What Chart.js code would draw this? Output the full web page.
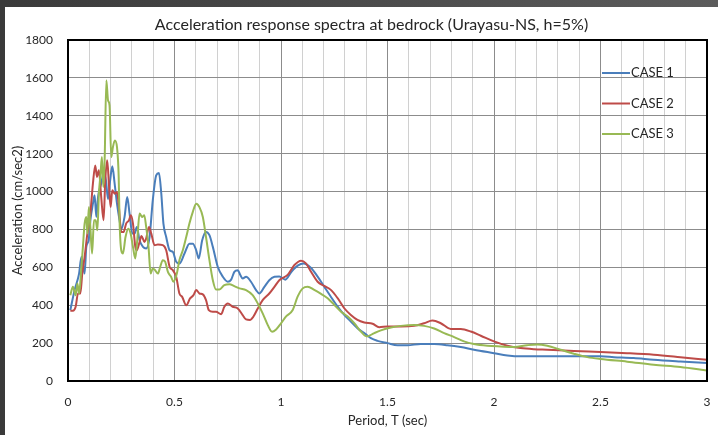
<!DOCTYPE html>
<html>
<head>
<meta charset="utf-8">
<script src="https://cdn.jsdelivr.net/npm/chart.js@4.4.1/dist/chart.umd.min.js"></script>
<style>
  html, body { margin: 0; padding: 0; }
  body { width: 718px; height: 435px; background: linear-gradient(90deg, #3a3a3a, #5c5c5c); position: relative; overflow: hidden; }
  #wrap { position: absolute; left: 5px; top: 7px; width: 713px; height: 428px; background: #fff; }
  canvas { display: block; }
</style>
</head>
<body>
<div id="wrap"><canvas id="spectra" width="713" height="428"></canvas></div>
<script>
// Periodo (s) y aceleracion (cm/s2)
const case1T = [0.011,0.031,0.052,0.063,0.078,0.086,0.097,0.105,0.117,0.125,0.133,0.141,0.156,0.167,0.178,0.188,0.198,0.208,0.219,0.230,0.242,0.250,0.266,0.278,0.289,0.302,0.313,0.323,0.336,0.352,0.367,0.383,0.398,0.414,0.427,0.438,0.448,0.461,0.477,0.492,0.508,0.523,0.547,0.570,0.586,0.602,0.614,0.630,0.648,0.664,0.680,0.703,0.727,0.750,0.766,0.781,0.797,0.809,0.820,0.836,0.859,0.883,0.898,0.922,0.945,0.969,0.992,1.020,1.050,1.080,1.105,1.140,1.172,1.203,1.234,1.266,1.297,1.328,1.359,1.391,1.422,1.453,1.500,1.547,1.594,1.656,1.719,1.781,1.844,1.906,2.000,2.063,2.125,2.250,2.406,2.500,2.563,2.656,2.750,2.875,3.000];
const case1A = [374,480,567,655,567,708,743,848,936,980,866,971,1042,1095,1060,960,1060,1133,1042,936,848,800,870,971,883,778,778,813,743,708,700,760,954,1086,1098,989,831,760,690,682,629,620,673,725,725,690,647,743,787,770,708,603,550,524,535,576,585,559,541,550,524,480,462,497,532,550,552,535,578,610,620,598,551,498,445,393,349,314,279,253,226,212,200,189,189,195,195,189,179,165,147,135,130,130,130,130,126,121,112,103,95];

const case2T = [0.011,0.023,0.036,0.047,0.058,0.067,0.078,0.091,0.102,0.109,0.117,0.128,0.136,0.145,0.156,0.167,0.175,0.184,0.192,0.200,0.208,0.219,0.230,0.239,0.250,0.261,0.273,0.286,0.295,0.305,0.316,0.323,0.336,0.345,0.359,0.367,0.380,0.391,0.406,0.422,0.445,0.461,0.477,0.492,0.508,0.523,0.536,0.555,0.573,0.589,0.602,0.617,0.633,0.648,0.661,0.680,0.695,0.719,0.734,0.750,0.773,0.797,0.820,0.836,0.855,0.870,0.891,0.914,0.945,0.969,0.992,1.031,1.063,1.094,1.117,1.141,1.172,1.203,1.234,1.266,1.297,1.328,1.359,1.391,1.430,1.461,1.500,1.563,1.625,1.672,1.711,1.750,1.797,1.844,1.891,1.938,2.000,2.063,2.125,2.188,2.250,2.375,2.500,2.625,2.750,2.875,3.000];
const case2A = [371,371,392,462,462,567,655,778,848,936,1042,1138,1077,1112,971,848,1060,1165,1042,918,1007,989,998,918,787,787,831,848,875,831,708,690,734,766,734,752,813,778,717,720,717,690,603,585,550,462,444,400,436,453,480,462,457,427,374,365,365,353,392,409,392,383,348,325,322,339,383,427,462,497,532,560,612,635,621,577,524,502,481,437,384,349,323,309,302,284,288,288,291,305,319,305,275,274,261,239,209,186,174,168,165,158,153,147,139,126,112];

const case3T = [0.011,0.023,0.036,0.044,0.052,0.063,0.070,0.078,0.086,0.091,0.098,0.105,0.113,0.122,0.130,0.138,0.145,0.153,0.159,0.166,0.172,0.180,0.188,0.195,0.203,0.211,0.220,0.230,0.238,0.242,0.250,0.258,0.270,0.283,0.294,0.305,0.316,0.325,0.336,0.348,0.358,0.367,0.378,0.388,0.398,0.409,0.422,0.433,0.445,0.456,0.469,0.484,0.495,0.511,0.523,0.539,0.555,0.570,0.586,0.602,0.617,0.633,0.648,0.664,0.680,0.695,0.711,0.734,0.758,0.781,0.805,0.836,0.867,0.891,0.914,0.938,0.958,0.977,1.000,1.023,1.055,1.078,1.102,1.125,1.156,1.188,1.219,1.250,1.281,1.313,1.344,1.375,1.403,1.438,1.469,1.516,1.563,1.625,1.672,1.719,1.766,1.813,1.859,1.906,1.969,2.031,2.094,2.156,2.203,2.250,2.313,2.375,2.438,2.500,2.625,2.750,2.875,3.000];
const case3A = [453,497,453,515,462,603,708,831,866,778,918,813,673,848,848,796,989,1095,1182,1024,1165,1587,1481,1455,1182,1235,1270,1235,1077,848,690,673,760,804,778,708,647,743,884,866,875,813,708,567,594,585,567,603,638,630,576,550,524,567,638,690,760,831,893,936,918,866,760,638,532,483,483,506,511,501,489,480,453,409,357,295,260,272,304,340,375,445,489,498,481,460,437,402,367,340,305,261,235,253,267,282,291,296,291,277,253,232,209,195,186,182,179,189,193,186,165,144,126,116,102,86,74,56];

const seriesNames = ['CASE 1', 'CASE 2', 'CASE 3'];
const seriesColors = ['#4a7ebb', '#be4b48', '#98b954'];
const yTicks = [0, 200, 400, 600, 800, 1000, 1200, 1400, 1600, 1800];

const fontFam = 'Lato, "Open Sans", sans-serif';
const textColor = '#262626';

function toPoints(ts, as) {
    return ts.map((t, i) => ({ x: t, y: as[i] }));
}

// titulo, leyenda dentro del area y marco del grafico
const extras = {
    id: 'extras',
    afterDraw(chart) {
        const ctx = chart.ctx;
        const a = chart.chartArea;
        ctx.save();
        // marco
        ctx.strokeStyle = '#000';
        ctx.lineWidth = 2;
        ctx.strokeRect(a.left, a.top, a.right - a.left, a.bottom - a.top);
        // titulo
        ctx.fillStyle = textColor;
        ctx.font = '16px ' + fontFam;
        ctx.textAlign = 'center';
        ctx.textBaseline = 'middle';
        ctx.fillText('Acceleration response spectra at bedrock (Urayasu-NS, h=5%)', (a.left + a.right) / 2 - 16, a.top - 15);
        // leyenda
        ctx.font = '13px ' + fontFam;
        ctx.textAlign = 'left';
        chart.data.datasets.forEach((ds, i) => {
            const y = a.top + 33 + i * 30.5;
            const x0 = a.right - 105;
            ctx.strokeStyle = ds.borderColor;
            ctx.lineWidth = 2;
            ctx.beginPath();
            ctx.moveTo(x0, y);
            ctx.lineTo(x0 + 28, y);
            ctx.stroke();
            ctx.fillStyle = textColor;
            ctx.fillText(ds.label, x0 + 29, y);
        });
        ctx.restore();
    }
};

new Chart(document.getElementById('spectra'), {
    type: 'line',
    data: {
        datasets: [
            { label: seriesNames[0], data: toPoints(case1T, case1A), borderColor: seriesColors[0], order: 3 },
            { label: seriesNames[1], data: toPoints(case2T, case2A), borderColor: seriesColors[1], order: 2 },
            { label: seriesNames[2], data: toPoints(case3T, case3A), borderColor: seriesColors[2], order: 1 }
        ]
    },
    options: {
        responsive: false,
        animation: false,
        devicePixelRatio: 1,
        layout: { padding: { left: 0, top: 33, right: 11, bottom: 0 } },
        elements: {
            point: { radius: 0 },
            line: { borderWidth: 2, tension: 0.4, cubicInterpolationMode: 'monotone', fill: false }
        },
        plugins: {
            legend: { display: false },
            title: { display: false },
            tooltip: { enabled: false }
        },
        scales: {
            x: {
                type: 'linear',
                min: 0,
                max: 3,
                afterFit: s => { s.height = 54; s.paddingLeft = 0; s.paddingRight = 0; },
                afterBuildTicks: s => {
                    s.ticks = [];
                    for (let k = 0; k <= 30; k++) s.ticks.push({ value: k / 10 });
                },
                ticks: {
                    autoSkip: false,
                    maxRotation: 0,
                    padding: 14,
                    color: textColor,
                    font: { family: fontFam, size: 12 },
                    callback: v => (Math.abs(v * 2 - Math.round(v * 2)) < 1e-6 ? String(Math.round(v * 2) / 2) : '')
                },
                grid: {
                    drawTicks: false,
                    lineWidth: 1,
                    color: c => (Math.abs(c.tick.value * 2 - Math.round(c.tick.value * 2)) < 1e-6 ? '#8c8c8c' : '#d0d0d0')
                },
                border: { display: false },
                title: {
                    display: true,
                    text: 'Period, T (sec)',
                    color: textColor,
                    font: { family: fontFam, size: 13 },
                    padding: { top: 0, bottom: 6 }
                }
            },
            y: {
                min: 0,
                max: 1800,
                afterFit: s => { s.width = 63; s.paddingTop = 0; s.paddingBottom = 0; },
                afterBuildTicks: s => { s.ticks = yTicks.map(v => ({ value: v })); },
                ticks: {
                    padding: 15,
                    color: textColor,
                    font: { family: fontFam, size: 12 },
                    callback: v => String(v)
                },
                grid: { drawTicks: false, color: '#8c8c8c', lineWidth: 1 },
                border: { display: false },
                title: {
                    display: true,
                    text: 'Acceleration (cm/sec2)',
                    color: textColor,
                    font: { family: fontFam, size: 13 },
                    padding: { top: 5, bottom: 0 }
                }
            }
        }
    },
    plugins: [extras]
});
</script>
</body>
</html>
